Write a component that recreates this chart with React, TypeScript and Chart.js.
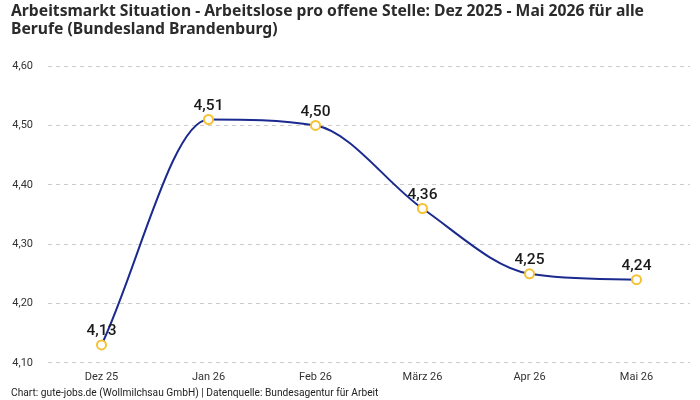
import React, { useEffect, useRef } from "react";
import { Chart, registerables } from "chart.js";

Chart.register(...registerables);

const categories = ["Dez 25", "Jan 26", "Feb 26", "März 26", "Apr 26", "Mai 26"];
const values = [4.13, 4.51, 4.5, 4.36, 4.25, 4.24];
const titleLines = [
  "Arbeitsmarkt Situation - Arbeitslose pro offene Stelle: Dez 2025 - Mai 2026 für alle",
  "Berufe (Bundesland Brandenburg)",
];
const footerText = "Chart: gute-jobs.de (Wollmilchsau GmbH) | Datenquelle: Bundesagentur für Arbeit";

const FONT = "Roboto, 'Noto Sans', sans-serif";
const TITLE_FONT = "'Noto Sans', Roboto, sans-serif";

const fmt = (v: number) => v.toFixed(2).replace(".", ",");

const labelPlugin = {
  id: "pointLabels",
  afterDatasetsDraw(chart: any) {
    const ctx = chart.ctx;
    const meta = chart.getDatasetMeta(0);
    ctx.save();
    ctx.font = `500 15.5px ${FONT}`;
    ctx.fillStyle = "#1a1a1a";
    ctx.textAlign = "center";
    ctx.textBaseline = "bottom";
    meta.data.forEach((pt: any, i: number) => {
      ctx.fillText(fmt(values[i]), pt.x, pt.y - 6);
    });
    ctx.restore();
  },
};

export default function App() {
  const ref = useRef<HTMLCanvasElement>(null);
  useEffect(() => {
    if (!ref.current) return;
    const chart = new Chart(ref.current, {
      type: "line",
      data: {
        labels: categories,
        datasets: [
          {
            data: values,
            borderColor: "#1b2a8e",
            borderWidth: 2,
            cubicInterpolationMode: "monotone",
            pointRadius: 4.5,
            pointBorderWidth: 2,
            pointBorderColor: "#f6c232",
            pointBackgroundColor: "#ffffff",
            fill: false,
          },
        ],
      },
      options: {
        animation: false,
        responsive: false,
        layout: { padding: { left: 11, right: 10, top: 0, bottom: 0 } },
        plugins: {
          legend: { display: false },
          tooltip: { enabled: false },
          title: {
            display: true,
            text: titleLines,
            align: "start",
            color: "#2b2b2b",
            font: { family: TITLE_FONT, size: 15.7, weight: "bold", lineHeight: 1.15 },
            padding: { top: 2, bottom: 28 },
          },
          subtitle: {
            display: true,
            position: "bottom",
            text: footerText,
            align: "start",
            color: "#222",
            font: { family: FONT, size: 10.2, lineHeight: 1.2 },
            padding: { top: 0, bottom: 0 },
          },
        },
        scales: {
          x: {
            offset: true,
            grid: { display: false, drawTicks: false },
            border: { display: false },
            ticks: { color: "#333", font: { family: FONT, size: 11 }, padding: 8 },
            afterFit: (s: any) => {
              s.height = 25;
            },
          },
          y: {
            min: 4.1,
            max: 4.6,
            grid: { color: "#cccccc", drawTicks: false },
            border: { display: false, dash: [4, 4] },
            ticks: {
              stepSize: 0.1,
              color: "#333",
              font: { family: FONT, size: 11 },
              padding: 15,
              callback: (v: any) => fmt(Number(v)),
            },
            afterFit: (s: any) => {
              s.width = 37;
            },
          },
        },
      },
      plugins: [labelPlugin],
    });
    return () => chart.destroy();
  }, []);
  return (
    <div style={{ position: "absolute", left: 0, top: 0, width: 700, height: 400, background: "#fff" }}>
      <canvas ref={ref} width={700} height={400} />
    </div>
  );
}
